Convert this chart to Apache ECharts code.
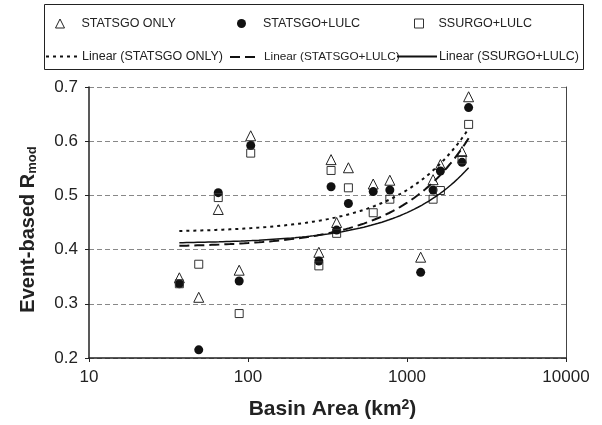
<!DOCTYPE html>
<html>
<head>
<meta charset="utf-8">
<script src="https://cdn.jsdelivr.net/npm/echarts@6/dist/echarts.min.js"></script>
<style>
  html, body { margin: 0; padding: 0; background: #fff; }
  #chart { width: 602px; height: 425px; }
</style>
</head>
<body>
<div id="chart"></div>
<script>
// basin area (km2) of each event basin
const basinArea = [37, 49, 65, 88, 104, 279, 333, 361, 428, 613, 780, 1219, 1459, 1622, 2218, 2441];
// event-based R_mod for the three model setups
const statsgoOnly = [0.348, 0.312, 0.474, 0.362, 0.610, 0.395, 0.566, 0.450, 0.551, 0.521, 0.528, 0.386, 0.529, 0.557, 0.581, 0.682];
const statsgoLulc = [0.337, 0.215, 0.505, 0.342, 0.592, 0.379, 0.516, 0.436, 0.485, 0.507, 0.510, 0.358, 0.510, 0.545, 0.561, 0.662];
// the 1219 km2 point lies below the axis (hidden), guessed from the trendline
const ssurgoLulc = [0.337, 0.373, 0.496, 0.282, 0.578, 0.370, 0.546, 0.430, 0.514, 0.468, 0.493, 0.18, 0.493, 0.509, 0.566, 0.631];
const yTicks = [0.2, 0.3, 0.4, 0.5, 0.6, 0.7];

const font = "'Liberation Sans', Arial, sans-serif";

function pairs(ys) {
  const out = [];
  ys.forEach((y, i) => { if (y != null) out.push([basinArea[i], y]); });
  return out;
}

// Excel style "Linear" trendline: least squares on x (not log x)
function trend(ys) {
  const p = pairs(ys);
  const n = p.length;
  let mx = 0, my = 0;
  p.forEach(d => { mx += d[0]; my += d[1]; });
  mx /= n; my /= n;
  let sxy = 0, sxx = 0;
  p.forEach(d => { sxy += (d[0] - mx) * (d[1] - my); sxx += (d[0] - mx) * (d[0] - mx); });
  const b = sxy / sxx, a = my - b * mx;
  const x0 = Math.log10(p[0][0]), x1 = Math.log10(p[n - 1][0]);
  const line = [];
  for (let k = 0; k <= 80; k++) {
    const x = Math.pow(10, x0 + (x1 - x0) * k / 80);
    line.push([x, a + b * x]);
  }
  return line;
}

const chart = echarts.init(document.getElementById('chart'));

function legendItem(name, left, top, width, gapPad, size) {
  const isLine = name.indexOf('Linear') === 0;
  return {
    data: [{ name: name, itemStyle: isLine ? { opacity: 0 } : { opacity: 1, borderWidth: 1 } }],
    left: left,
    top: top,
    padding: 0,
    itemWidth: width,
    itemHeight: isLine ? 10 : 9,
    selectedMode: false,
    textStyle: { fontFamily: font, fontSize: size || 12.5, color: '#222', padding: [0, 0, 0, gapPad] }
  };
}

chart.setOption({
  animation: false,
  textStyle: { fontFamily: font },
  graphic: [{
    type: 'rect',
    shape: { x: 44.5, y: 4.5, width: 539, height: 65 },
    style: { fill: 'none', stroke: '#222', lineWidth: 1 }
  }],
  legend: [
    legendItem('STATSGO ONLY', 55, 17, 9, 12),
    legendItem('STATSGO+LULC', 237, 17, 9, 12),
    legendItem('SSURGO+LULC', 414, 17, 9, 10),
    legendItem('Linear (STATSGO ONLY)', 45, 50, 34, -3),
    legendItem('Linear (STATSGO+LULC)', 229, 51, 30, -1, 11.8),
    legendItem('Linear (SSURGO+LULC)', 396, 50, 40, -3)
  ],
  grid: { left: 89, right: 36, top: 87, bottom: 66 },
  xAxis: {
    type: 'log',
    logBase: 10,
    min: 10,
    max: 10000,
    name: 'Basin Area (km{sup|2})',
    nameLocation: 'middle',
    nameGap: 40,
    nameTextStyle: {
      fontFamily: font, fontSize: 21, fontWeight: 'bold', color: '#222', padding: [0, 0, 0, 10],
      rich: { sup: { fontSize: 14, fontWeight: 'bold', verticalAlign: 'top', padding: [0, 0, 9, 0], color: '#222' } }
    },
    axisLine: { lineStyle: { color: '#222', width: 1.5 } },
    axisTick: { inside: false, length: 4, lineStyle: { color: '#222' } },
    minorTick: { show: false },
    splitLine: { show: false },
    axisLabel: { fontFamily: font, fontSize: 17, color: '#222', margin: 11, formatter: v => String(Math.round(v)) }
  },
  yAxis: [{
    type: 'value',
    min: yTicks[0],
    max: yTicks[yTicks.length - 1],
    interval: 0.1,
    name: 'Event-based R{sub|mod}',
    nameLocation: 'middle',
    nameRotate: 90,
    nameGap: 50,
    nameTextStyle: {
      fontFamily: font, fontSize: 20, fontWeight: 'bold', color: '#222', padding: [0, 14, 0, 0],
      rich: { sub: { fontSize: 13, fontWeight: 'bold', verticalAlign: 'bottom', padding: [9, 0, 0, 0], color: '#222' } }
    },
    axisLine: { show: true, lineStyle: { color: '#222', width: 1.5 } },
    axisTick: { show: true, length: 4, lineStyle: { color: '#222' } },
    splitLine: { show: true, lineStyle: { color: '#888', type: [5, 3], width: 1 } },
    axisLabel: { fontFamily: font, fontSize: 17, color: '#222', margin: 11, formatter: v => v.toFixed(1) }
  }, {
    // right border of the plot
    type: 'value',
    position: 'right',
    min: yTicks[0],
    max: yTicks[yTicks.length - 1],
    interval: 0.1,
    axisLine: { show: true, lineStyle: { color: '#444', width: 1 } },
    axisTick: { show: false },
    axisLabel: { show: false },
    splitLine: { show: false }
  }],
  series: [
    {
      name: 'STATSGO ONLY',
      type: 'scatter',
      symbol: 'triangle',
      symbolSize: 10,
      data: pairs(statsgoOnly),
      itemStyle: { color: 'rgba(255,255,255,0)', borderColor: '#222', borderWidth: 1, opacity: 1 }
    },
    {
      name: 'STATSGO+LULC',
      type: 'scatter',
      symbol: 'circle',
      symbolSize: 9,
      data: pairs(statsgoLulc),
      itemStyle: { color: '#111', opacity: 1 }
    },
    {
      name: 'SSURGO+LULC',
      type: 'scatter',
      symbol: 'rect',
      symbolSize: 8,
      clip: true,
      data: pairs(ssurgoLulc),
      itemStyle: { color: 'rgba(255,255,255,0)', borderColor: '#333', borderWidth: 1, opacity: 1 }
    },
    {
      name: 'Linear (STATSGO ONLY)',
      type: 'line',
      symbol: 'none',
      data: trend(statsgoOnly),
      lineStyle: { color: '#111', width: 2, type: [3, 4] }
    },
    {
      name: 'Linear (STATSGO+LULC)',
      type: 'line',
      symbol: 'none',
      data: trend(statsgoLulc),
      lineStyle: { color: '#111', width: 2, type: [10, 5] }
    },
    {
      name: 'Linear (SSURGO+LULC)',
      type: 'line',
      symbol: 'none',
      data: trend(ssurgoLulc),
      lineStyle: { color: '#111', width: 1.5, type: 'solid' }
    }
  ]
});
</script>
</body>
</html>
